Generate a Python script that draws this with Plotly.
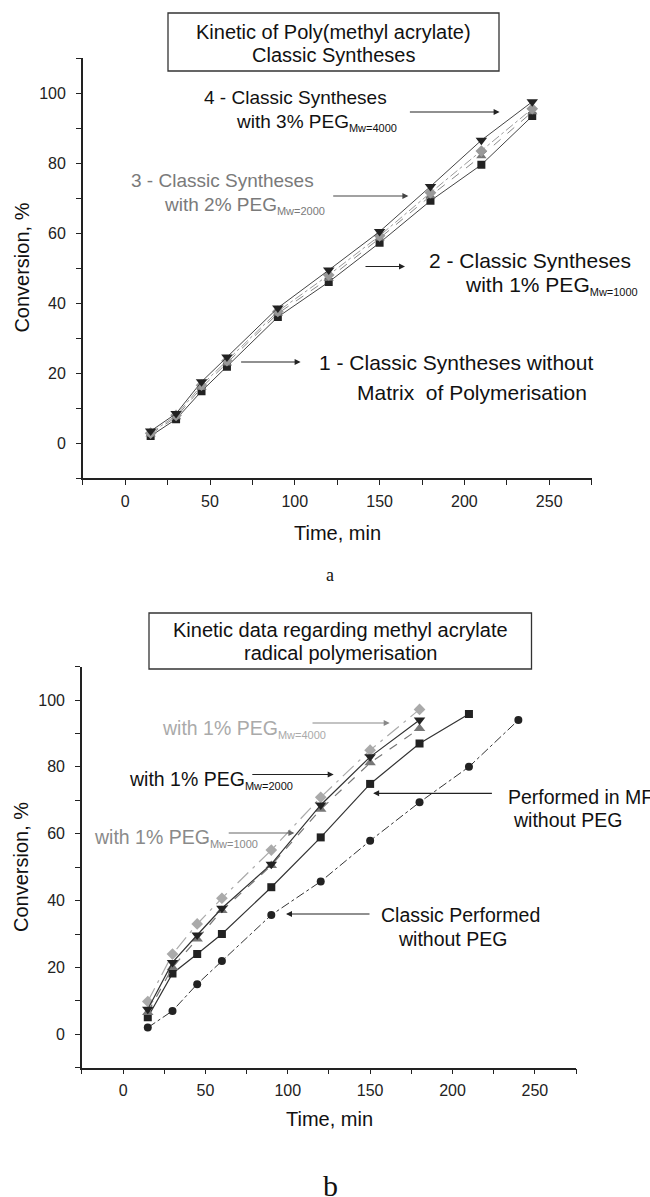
import plotly.graph_objects as go

# ---------------- data ----------------
time_a = [15, 30, 45, 60, 90, 120, 150, 180, 210, 240]
a_no_matrix = [2, 6.8, 14.8, 21.8, 36, 46, 57.2, 69.2, 79.5, 93.4]
a_peg1000 = [2.5, 7.4, 15.8, 22.8, 37, 47, 58.5, 70.6, 82, 94.6]
a_peg2000 = [2.8, 7.9, 16.5, 23.5, 37.6, 48, 59.2, 71.5, 83.4, 95.5]
a_peg4000 = [3.4, 8.4, 17.5, 24.6, 38.6, 49.4, 60.4, 73.3, 86.5, 97.5]

time_classic = [15, 30, 45, 60, 90, 120, 150, 180, 210, 240]
b_classic = [2, 7, 15, 21.9, 35.7, 45.7, 57.9, 69.4, 80, 94]
time_mf = [15, 30, 45, 60, 90, 120, 150, 180, 210]
b_mf = [5.1, 18.2, 24, 30, 44, 58.9, 74.9, 87, 95.8]
time_peg = [15, 30, 45, 60, 90, 120, 150, 180]
b_peg2000 = [7.5, 21.5, 29.7, 37.7, 50.9, 68.6, 83, 94]
b_peg1000 = [6.5, 20, 28.5, 37, 50.5, 67.3, 81.2, 91.5]
b_peg4000 = [9.8, 24, 33, 40.7, 55.1, 70.9, 85, 97.2]

x_ticks = [0, 50, 100, 150, 200, 250]
y_ticks = [0, 20, 40, 60, 80, 100]

W, H = 650, 1197
FONT = "Liberation Sans, Arial, Helvetica, sans-serif"
SERIF = "Liberation Serif, Times New Roman, serif"


def px(x):
    return x / W


def py(y):
    return 1 - y / H


fig = go.Figure()

# ---- top chart traces ----
fig.add_trace(go.Scatter(x=time_a, y=a_no_matrix, mode="lines+markers",
                         line=dict(color="#444", width=1),
                         marker=dict(symbol="square", size=8, color="#222"),
                         xaxis="x", yaxis="y", showlegend=False))
fig.add_trace(go.Scatter(x=time_a, y=a_peg1000, mode="lines+markers",
                         line=dict(color="#888", width=1, dash="dash"),
                         marker=dict(symbol="triangle-up", size=9, color="#777"),
                         xaxis="x", yaxis="y", showlegend=False))
fig.add_trace(go.Scatter(x=time_a, y=a_peg2000, mode="lines+markers",
                         line=dict(color="#999", width=1, dash="dashdot"),
                         marker=dict(symbol="diamond", size=9, color="#999"),
                         xaxis="x", yaxis="y", showlegend=False))
fig.add_trace(go.Scatter(x=time_a, y=a_peg4000, mode="lines+markers",
                         line=dict(color="#444", width=1),
                         marker=dict(symbol="triangle-down", size=10, color="#222"),
                         xaxis="x", yaxis="y", showlegend=False))

# ---- bottom chart traces ----
fig.add_trace(go.Scatter(x=time_classic, y=b_classic, mode="lines+markers",
                         line=dict(color="#333", width=1, dash="dashdot"),
                         marker=dict(symbol="circle", size=8, color="#222"),
                         xaxis="x2", yaxis="y2", showlegend=False))
fig.add_trace(go.Scatter(x=time_mf, y=b_mf, mode="lines+markers",
                         line=dict(color="#333", width=1.2),
                         marker=dict(symbol="square", size=8, color="#222"),
                         xaxis="x2", yaxis="y2", showlegend=False))
fig.add_trace(go.Scatter(x=time_peg, y=b_peg1000, mode="lines+markers",
                         line=dict(color="#777", width=1.2, dash="dash"),
                         marker=dict(symbol="triangle-up", size=10, color="#777"),
                         xaxis="x2", yaxis="y2", showlegend=False))
fig.add_trace(go.Scatter(x=time_peg, y=b_peg4000, mode="lines+markers",
                         line=dict(color="#aaa", width=1.2, dash="longdashdot"),
                         marker=dict(symbol="diamond", size=9, color="#aaa"),
                         xaxis="x2", yaxis="y2", showlegend=False))
fig.add_trace(go.Scatter(x=time_peg, y=b_peg2000, mode="lines+markers",
                         line=dict(color="#333", width=1.2),
                         marker=dict(symbol="triangle-down", size=10, color="#222"),
                         xaxis="x2", yaxis="y2", showlegend=False))

axis_common = dict(showgrid=False, zeroline=False, showline=True,
                   linecolor="#222", linewidth=1.5, ticks="outside",
                   ticklen=5, tickwidth=1.2, tickcolor="#222",
                   tickfont=dict(family=FONT, size=16, color="#222"),
                   mirror=False)

fig.update_layout(
    width=W, height=H,
    margin=dict(l=0, r=0, t=0, b=0),
    paper_bgcolor="white", plot_bgcolor="white",
    xaxis=dict(domain=[px(82.8), px(591.6)], range=[-25, 275], anchor="y",
               tickvals=x_ticks, ticklabelstandoff=3,
               minor=dict(dtick=25, tick0=0, ticks="outside", ticklen=5, tickcolor="#222"),
               **axis_common),
    yaxis=dict(domain=[py(478), py(58)], range=[-10, 110], anchor="x",
               tickvals=y_ticks, ticklabelstandoff=7,
               minor=dict(dtick=10, tick0=0, ticks="outside", ticklen=5, tickcolor="#222"),
               **axis_common),
    xaxis2=dict(domain=[px(81.9), px(576)], range=[-25, 275], anchor="y2",
                tickvals=x_ticks, ticklabelstandoff=2,
                minor=dict(dtick=25, tick0=0, ticks="outside", ticklen=5, tickcolor="#222"),
                **axis_common),
    yaxis2=dict(domain=[py(1067.7), py(666.6)], range=[-10, 110], anchor="x2",
                tickvals=y_ticks, ticklabelstandoff=7,
                minor=dict(dtick=10, tick0=0, ticks="outside", ticklen=5, tickcolor="#222"),
                **axis_common),
)

ann = []


def text(x, y, s, size=19, color="#111", xanchor="left", family=FONT, angle=0):
    ann.append(dict(x=px(x), y=py(y), xref="paper", yref="paper", text=s,
                    showarrow=False, xanchor=xanchor, yanchor="middle",
                    textangle=angle,
                    font=dict(family=family, size=size, color=color)))


def arrow(x0, y0, x1, y1, color="#222"):
    ann.append(dict(x=px(x1), y=py(y1), xref="paper", yref="paper", text="",
                    showarrow=True, ax=x0 - x1, ay=y0 - y1, axref="pixel", ayref="pixel",
                    arrowhead=2, arrowsize=1, arrowwidth=1.2, arrowcolor=color,
                    standoff=0, startstandoff=0))


def sub(s):
    return '<sub><span style="font-size:11px">' + s + '</span></sub>'


# ---- title boxes ----
shapes = [
    dict(type="rect", xref="paper", yref="paper", x0=px(168), x1=px(499),
         y0=py(71), y1=py(13), line=dict(color="#333", width=1.3)),
    dict(type="rect", xref="paper", yref="paper", x0=px(149), x1=px(531.5),
         y0=py(669), y1=py(613), line=dict(color="#333", width=1.3)),
]
text(333.5, 32, "Kinetic of Poly(methyl acrylate)", size=20, xanchor="center")
text(333.5, 55, "Classic Syntheses", size=20, xanchor="center")
text(340, 630, "Kinetic data regarding methyl acrylate", size=20, xanchor="center")
text(340, 653, "radical polymerisation", size=20, xanchor="center")

# ---- axis titles ----
text(21.6, 268, "Conversion, %", size=20, xanchor="center", angle=-90)
text(337.5, 533, "Time, min", size=20, xanchor="center")
text(21, 867, "Conversion, %", size=20, xanchor="center", angle=-90)
text(329, 1119, "Time, min", size=20, xanchor="center")

# ---- panel letters ----
text(329.6, 575, "a", size=18, xanchor="center", family=SERIF)
text(330.4, 1185, "b", size=30, xanchor="center", family=SERIF)

# ---- top chart labels ----
text(202.3, 97, "4 - Classic Syntheses", size=19)
text(234.2, 122, "with 3% PEG" + sub("Mw=4000"), size=19)
arrow(408.4, 112, 499.6, 112)
text(128.5, 180, "3 - Classic Syntheses", size=19, color="#7a7a7a")
text(161.7, 205, "with 2% PEG" + sub("Mw=2000"), size=19, color="#7a7a7a")
arrow(331.7, 196, 408.4, 196, color="#444")
text(426.7, 260, "2 - Classic Syntheses", size=21)
text(463, 285, "with 1% PEG" + sub("Mw=1000"), size=21)
arrow(364, 266.5, 405, 266.5)
text(317.2, 363, "1 - Classic Syntheses without", size=21)
text(354.5, 392, "Matrix  of Polymerisation", size=21)
arrow(239.6, 362, 300.6, 362)

# ---- bottom chart labels ----
text(159.6, 729, "with 1% PEG" + sub("Mw=4000"), size=19.5, color="#aaaaaa")
arrow(311, 723, 389.7, 723, color="#888")
text(126.5, 780, "with 1% PEG" + sub("Mw=2000"), size=19.5)
arrow(250.8, 774.5, 333.7, 774.5)
text(92, 838, "with 1% PEG" + sub("Mw=1000"), size=19.5, color="#8a8a8a")
arrow(227.2, 833, 294.4, 833, color="#666")
text(505.8, 797, "Performed in MF", size=19.5)
text(510.8, 820, "without PEG", size=19.5)
arrow(493.4, 793.3, 373.1, 793.3)
text(379.4, 915, "Classic Performed", size=19.5)
text(396, 939, "without PEG", size=19.5)
arrow(371, 914, 286, 914)

fig.update_layout(annotations=ann, shapes=shapes)
fig.write_html("out.html", config={"displayModeBar": False},
               post_script="document.body.style.margin='0';document.body.style.overflow='hidden';")
